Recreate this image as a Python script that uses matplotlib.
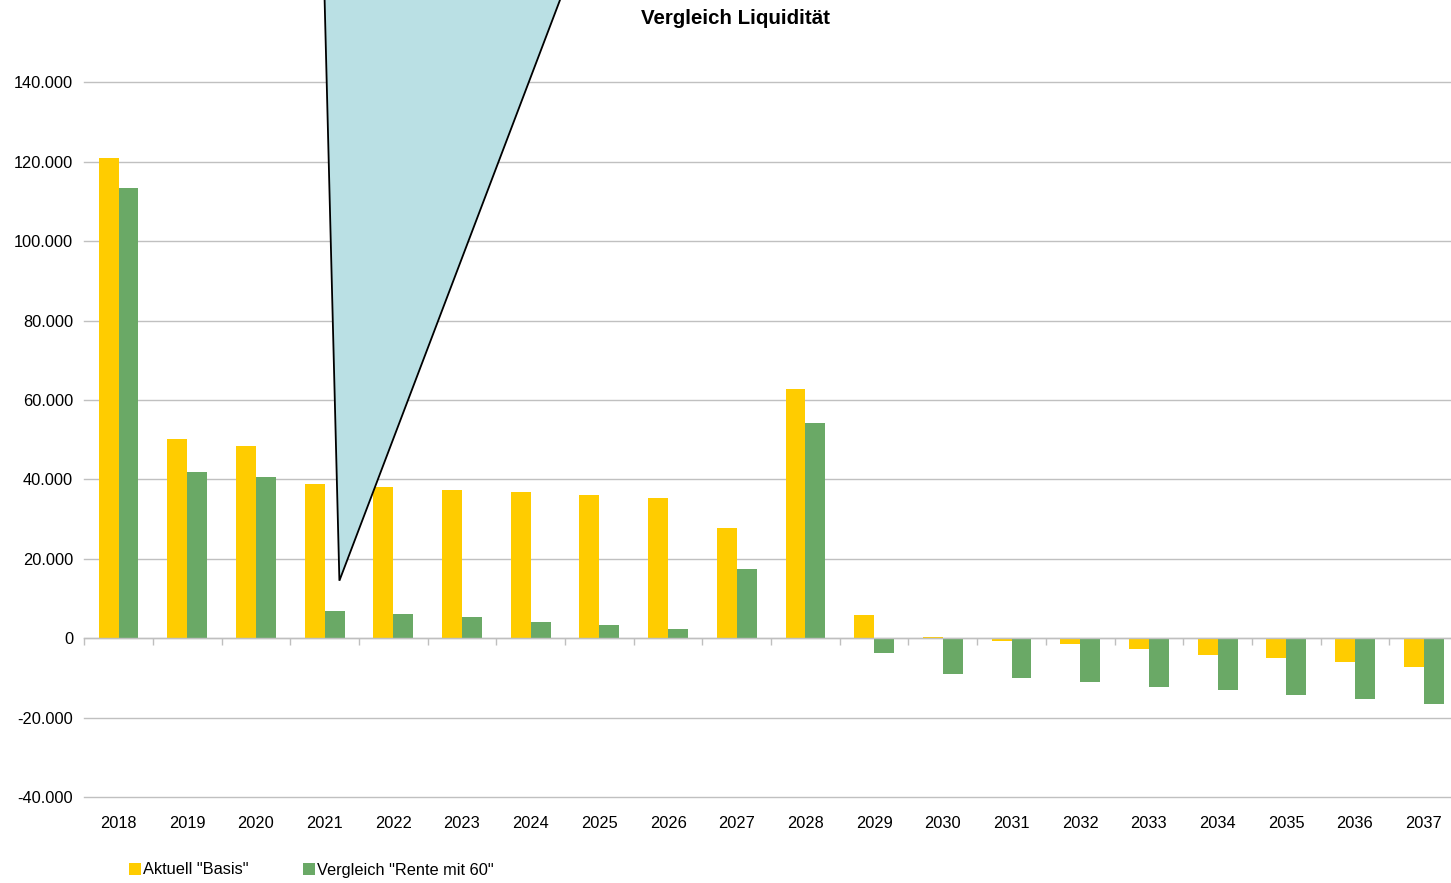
import numpy as np
import matplotlib
matplotlib.use("Agg")
import matplotlib.pyplot as plt
from matplotlib.patches import Polygon
from matplotlib.ticker import FuncFormatter

plt.rcParams['font.family'] = ['Liberation Sans', 'DejaVu Sans']

years = [str(y) for y in range(2018, 2038)]
basis = [121100, 50200, 48400, 38800, 38050, 37300, 36800, 36000, 35300, 27900,
         62900, 5900, 300, -700, -1400, -2700, -4200, -5000, -6000, -7250]
rente60 = [113300, 41850, 40600, 6900, 6150, 5400, 4100, 3350, 2350, 17550,
           54250, -3700, -9050, -10050, -11050, -12350, -13100, -14350, -15350, -16650]
series_names = ['Aktuell "Basis"', 'Vergleich "Rente mit 60"']
colors = ['#FFCC00', '#6AA966']
title = 'Vergleich Liquidität'
yticks = [-40000, -20000, 0, 20000, 40000, 60000, 80000, 100000, 120000, 140000]

W, H = 1451, 883
fig = plt.figure(figsize=(W / 100, H / 100), dpi=100)

left_px, right_px, bottom_px, top_px = 84.2, 1458.0, 797.1, 0.0
ax = fig.add_axes([left_px / W, 1 - bottom_px / H, (right_px - left_px) / W, (bottom_px - top_px) / H])

x = np.arange(len(years))
bw = 0.29
ax.bar(x - bw / 2, basis, width=bw, color=colors[0], label=series_names[0], zorder=2)
ax.bar(x + bw / 2, rente60, width=bw, color=colors[1], label=series_names[1], zorder=2)

ax.set_xlim(-0.5, len(years) - 0.5)
ax.set_ylim(-40000, 160780)
ax.set_yticks(yticks)
ax.yaxis.set_major_formatter(FuncFormatter(lambda v, p: f"{int(v):,}".replace(",", ".")))
ax.tick_params(axis='y', length=0, pad=8, labelsize=11.75, colors='black')
ax.yaxis.grid(True, color='#C0C0C0', linewidth=1.0, zorder=0)
ax.set_axisbelow(True)
for gl in ax.get_ygridlines():
    gl.set_clip_on(False)

for s in ['left', 'top', 'right']:
    ax.spines[s].set_visible(False)
ax.spines['bottom'].set_position(('data', 0))
ax.spines['bottom'].set_color('#BFBFBF')
ax.spines['bottom'].set_linewidth(1.0)
ax.spines['bottom'].set_zorder(3)
ax.set_xticks(np.arange(-0.5, len(years), 1.0))
ax.set_xticklabels([])
ax.tick_params(axis='x', length=5, width=1.0, color='#BFBFBF', direction='out')

sec = ax.secondary_xaxis(0)
sec.set_xticks(x, labels=years)
sec.tick_params(length=0, pad=13.5, labelsize=11.75)
sec.spines['bottom'].set_visible(False)

fig.text(735.5 / W, 1 - 19 / H, title, ha='center', va='center', fontsize=14.8, fontweight='bold')

# callout shape
pts_px = [(324.1, -20), (339.4, 580.7), (567.6, -20)]
poly = Polygon([(px / W, 1 - py / H) for px, py in pts_px], closed=True,
               facecolor='#BAE0E4', edgecolor='black', linewidth=1.3,
               transform=fig.transFigure, zorder=10)
fig.add_artist(poly)

fig.legend(loc='center left', bbox_to_anchor=(128.5 / W, 1 - 870 / H), ncol=2, frameon=False,
           fontsize=11.75, handlelength=0.75, handleheight=0.8, handletextpad=0.15,
           columnspacing=3.3, borderpad=0, borderaxespad=0)

fig.savefig('out.png', dpi=100)
